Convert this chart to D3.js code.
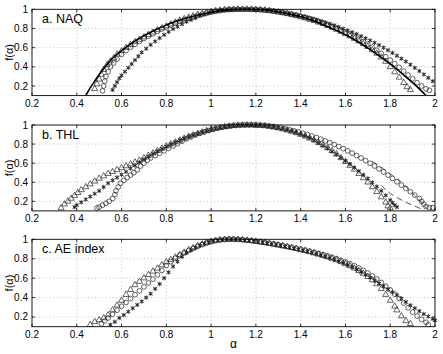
<!DOCTYPE html>
<html>
<head>
<meta charset="utf-8">
<script src="https://cdn.jsdelivr.net/npm/d3@7"></script>
<style>
  body { margin: 0; background: #fff; }
  svg { display: block; font-family: "Liberation Sans", Arial, sans-serif; }
</style>
</head>
<body>
<div id="chart"></div>
<script>
// chart size, same as the window
const width = 443;
const height = 354;

// tick values shared by all three panels
const xTicks = [0.2, 0.4, 0.6, 0.8, 1, 1.2, 1.4, 1.6, 1.8, 2];
const yTicks = [0.2, 0.4, 0.6, 0.8, 1];
const panelTitles = ['a. NAQ', 'b. THL', 'c. AE index'];

// ---- a. NAQ ----
const naqLine = [[0.44,0.10],[0.46,0.18],[0.48,0.25],[0.50,0.32],[0.53,0.41],[0.56,0.49],[0.60,0.57],[0.65,0.655],[0.70,0.725],[0.75,0.785],[0.80,0.835],[0.85,0.88],[0.90,0.915],[0.95,0.945],[1.00,0.97],[1.05,0.987],[1.10,0.997],[1.15,1.0],[1.20,0.998],[1.25,0.99],[1.30,0.972],[1.35,0.95],[1.40,0.922],[1.45,0.885],[1.50,0.84],[1.55,0.79],[1.60,0.735],[1.65,0.67],[1.70,0.595],[1.75,0.515],[1.80,0.43],[1.85,0.335],[1.90,0.235],[1.93,0.17],[1.96,0.10]];
const naqTri = [[0.48,0.17],[0.49,0.22],[0.50,0.27],[0.51,0.32],[0.52,0.37],[0.535,0.42],[0.55,0.46],[0.565,0.49],[0.58,0.53],[0.60,0.565],[0.62,0.60],[0.64,0.63],[0.66,0.66],[0.68,0.685],[0.70,0.71],[0.72,0.735],[0.74,0.76],[0.76,0.785],[0.78,0.805],[0.80,0.825],[0.82,0.845],[0.84,0.865],[0.86,0.885],[0.88,0.90],[0.90,0.915],[0.92,0.93],[0.94,0.945],[0.96,0.955],[0.98,0.965],[1.00,0.975],[1.02,0.983],[1.04,0.99],[1.06,0.994],[1.08,0.997],[1.10,0.999],[1.12,1.0],[1.14,1.0],[1.16,1.0],[1.18,0.999],[1.20,0.997],[1.22,0.994],[1.24,0.99],[1.26,0.985],[1.28,0.978],[1.30,0.97],[1.32,0.962],[1.34,0.953],[1.36,0.943],[1.38,0.932],[1.40,0.92],[1.42,0.908],[1.44,0.894],[1.46,0.88],[1.48,0.864],[1.50,0.848],[1.52,0.83],[1.54,0.81],[1.56,0.79],[1.58,0.768],[1.60,0.745],[1.62,0.72],[1.64,0.695],[1.66,0.668],[1.68,0.64],[1.70,0.61],[1.72,0.575],[1.74,0.54],[1.76,0.50],[1.78,0.455],[1.80,0.40],[1.82,0.345],[1.84,0.29],[1.86,0.235],[1.875,0.19],[1.89,0.16]];
const naqCirc = [[0.515,0.15],[0.52,0.20],[0.525,0.25],[0.53,0.30],[0.54,0.35],[0.55,0.40],[0.565,0.44],[0.58,0.48],[0.60,0.53],[0.62,0.57],[0.64,0.605],[0.66,0.635],[0.68,0.665],[0.70,0.695],[0.72,0.72],[0.74,0.745],[0.76,0.77],[0.78,0.795],[0.80,0.815],[0.82,0.835],[0.84,0.855],[0.86,0.875],[0.88,0.89],[0.90,0.905],[0.92,0.92],[0.94,0.935],[0.96,0.948],[0.98,0.96],[1.00,0.97],[1.02,0.979],[1.04,0.986],[1.06,0.992],[1.08,0.996],[1.10,0.998],[1.12,1.0],[1.14,1.0],[1.16,1.0],[1.18,0.999],[1.20,0.998],[1.22,0.995],[1.24,0.991],[1.26,0.987],[1.28,0.981],[1.30,0.974],[1.32,0.966],[1.34,0.958],[1.36,0.948],[1.38,0.938],[1.40,0.927],[1.42,0.915],[1.44,0.902],[1.46,0.888],[1.48,0.873],[1.50,0.857],[1.52,0.84],[1.54,0.822],[1.56,0.803],[1.58,0.783],[1.60,0.762],[1.62,0.74],[1.64,0.716],[1.66,0.69],[1.68,0.663],[1.70,0.635],[1.72,0.605],[1.74,0.573],[1.76,0.54],[1.78,0.505],[1.80,0.47],[1.82,0.433],[1.84,0.395],[1.86,0.355],[1.88,0.315],[1.90,0.275],[1.92,0.235],[1.94,0.20],[1.96,0.17],[1.975,0.155]];
const naqStar = [[0.56,0.16],[0.57,0.20],[0.58,0.24],[0.59,0.28],[0.60,0.31],[0.615,0.35],[0.63,0.39],[0.645,0.43],[0.66,0.47],[0.675,0.51],[0.69,0.55],[0.71,0.59],[0.73,0.63],[0.75,0.665],[0.77,0.70],[0.79,0.735],[0.81,0.765],[0.83,0.795],[0.85,0.82],[0.87,0.845],[0.89,0.87],[0.91,0.89],[0.93,0.91],[0.95,0.93],[0.97,0.945],[0.99,0.96],[1.01,0.972],[1.03,0.982],[1.05,0.99],[1.07,0.995],[1.09,0.998],[1.11,1.0],[1.13,1.0],[1.15,1.0],[1.17,1.0],[1.19,0.999],[1.21,0.997],[1.23,0.994],[1.25,0.99],[1.27,0.985],[1.29,0.979],[1.31,0.972],[1.33,0.965],[1.35,0.957],[1.37,0.948],[1.39,0.938],[1.41,0.928],[1.43,0.917],[1.45,0.905],[1.47,0.892],[1.49,0.878],[1.51,0.864],[1.53,0.849],[1.55,0.833],[1.57,0.816],[1.59,0.798],[1.61,0.78],[1.63,0.761],[1.65,0.741],[1.67,0.72],[1.69,0.698],[1.71,0.675],[1.73,0.651],[1.75,0.626],[1.77,0.60],[1.79,0.573],[1.81,0.545],[1.83,0.516],[1.85,0.486],[1.87,0.455],[1.89,0.423],[1.91,0.39],[1.93,0.356],[1.95,0.321],[1.97,0.285],[1.99,0.25]];

// ---- b. THL ----
const thlTri = [[0.33,0.13],[0.345,0.17],[0.36,0.20],[0.375,0.23],[0.39,0.26],[0.405,0.29],[0.42,0.32],[0.44,0.35],[0.46,0.38],[0.48,0.41],[0.50,0.44],[0.52,0.465],[0.54,0.49],[0.56,0.51],[0.58,0.53],[0.60,0.55],[0.62,0.57],[0.64,0.59],[0.66,0.61],[0.68,0.63],[0.70,0.655],[0.72,0.68],[0.74,0.705],[0.76,0.73],[0.78,0.755],[0.80,0.78],[0.82,0.80],[0.84,0.82],[0.86,0.84],[0.88,0.86],[0.90,0.88],[0.92,0.895],[0.94,0.91],[0.96,0.925],[0.98,0.94],[1.00,0.952],[1.02,0.963],[1.04,0.972],[1.06,0.98],[1.08,0.987],[1.10,0.993],[1.12,0.997],[1.14,0.999],[1.16,1.0],[1.18,1.0],[1.20,0.999],[1.22,0.996],[1.24,0.991],[1.26,0.985],[1.28,0.977],[1.30,0.968],[1.32,0.957],[1.34,0.945],[1.36,0.932],[1.38,0.917],[1.40,0.90],[1.42,0.882],[1.44,0.862],[1.46,0.84],[1.48,0.815],[1.50,0.79],[1.52,0.76],[1.54,0.73],[1.56,0.695],[1.58,0.655],[1.60,0.615],[1.62,0.575],[1.64,0.535],[1.66,0.49],[1.68,0.445],[1.70,0.40],[1.72,0.35],[1.74,0.30],[1.76,0.245],[1.78,0.19],[1.79,0.15],[1.80,0.13]];
const thlStar = [[0.39,0.14],[0.40,0.16],[0.42,0.19],[0.44,0.22],[0.46,0.25],[0.48,0.28],[0.50,0.31],[0.52,0.35],[0.54,0.39],[0.56,0.42],[0.58,0.45],[0.60,0.48],[0.62,0.51],[0.64,0.545],[0.66,0.575],[0.68,0.61],[0.70,0.64],[0.72,0.67],[0.74,0.70],[0.76,0.725],[0.78,0.75],[0.80,0.775],[0.82,0.80],[0.84,0.82],[0.86,0.84],[0.88,0.86],[0.90,0.88],[0.92,0.895],[0.94,0.91],[0.96,0.925],[0.98,0.94],[1.00,0.952],[1.02,0.963],[1.04,0.972],[1.06,0.98],[1.08,0.987],[1.10,0.993],[1.12,0.997],[1.14,0.999],[1.16,1.0],[1.18,1.0],[1.20,0.999],[1.22,0.997],[1.24,0.993],[1.26,0.987],[1.28,0.98],[1.30,0.971],[1.32,0.961],[1.34,0.95],[1.36,0.937],[1.38,0.921],[1.40,0.903],[1.42,0.884],[1.44,0.862],[1.46,0.838],[1.48,0.811],[1.50,0.783],[1.52,0.755],[1.54,0.723],[1.56,0.69],[1.58,0.657],[1.60,0.623],[1.62,0.589],[1.64,0.553],[1.66,0.516],[1.68,0.478],[1.70,0.44],[1.72,0.398],[1.74,0.355],[1.76,0.31],[1.78,0.263],[1.80,0.213],[1.81,0.185],[1.82,0.16],[1.83,0.14]];
const thlCirc = [[0.49,0.13],[0.50,0.14],[0.515,0.16],[0.53,0.18],[0.545,0.20],[0.56,0.23],[0.57,0.27],[0.575,0.31],[0.585,0.35],[0.595,0.39],[0.61,0.42],[0.625,0.45],[0.64,0.475],[0.655,0.50],[0.67,0.53],[0.685,0.57],[0.70,0.60],[0.715,0.63],[0.73,0.655],[0.75,0.68],[0.77,0.705],[0.79,0.73],[0.81,0.755],[0.83,0.78],[0.85,0.805],[0.87,0.83],[0.89,0.855],[0.91,0.875],[0.93,0.895],[0.95,0.912],[0.97,0.928],[0.99,0.942],[1.01,0.955],[1.03,0.966],[1.05,0.976],[1.07,0.984],[1.09,0.99],[1.11,0.995],[1.13,0.998],[1.15,1.0],[1.17,1.0],[1.19,1.0],[1.21,0.998],[1.23,0.995],[1.25,0.99],[1.27,0.984],[1.29,0.977],[1.31,0.969],[1.33,0.96],[1.35,0.95],[1.37,0.939],[1.39,0.927],[1.41,0.914],[1.43,0.90],[1.45,0.885],[1.47,0.869],[1.49,0.852],[1.51,0.834],[1.53,0.815],[1.55,0.795],[1.57,0.774],[1.59,0.752],[1.61,0.729],[1.63,0.705],[1.65,0.68],[1.67,0.654],[1.69,0.627],[1.71,0.599],[1.73,0.57],[1.75,0.54],[1.77,0.508],[1.79,0.475],[1.81,0.44],[1.83,0.405],[1.85,0.37],[1.87,0.335],[1.89,0.30],[1.91,0.265],[1.93,0.23],[1.94,0.20],[1.95,0.17],[1.96,0.145],[1.975,0.135],[1.99,0.135]];
const thlDashOuter = [[1.72,0.62],[1.77,0.54],[1.81,0.47],[1.85,0.40],[1.88,0.33],[1.91,0.26],[1.94,0.19],[1.96,0.13]];
const thlDashInner = [[1.76,0.37],[1.79,0.30],[1.83,0.24],[1.87,0.19],[1.91,0.15],[1.94,0.12]];

// ---- c. AE index ----
const aeTri = [[0.46,0.12],[0.48,0.15],[0.50,0.17],[0.52,0.19],[0.54,0.22],[0.56,0.27],[0.58,0.32],[0.60,0.37],[0.62,0.43],[0.64,0.48],[0.66,0.53],[0.68,0.565],[0.70,0.60],[0.72,0.635],[0.74,0.67],[0.76,0.70],[0.78,0.735],[0.80,0.765],[0.82,0.79],[0.84,0.815],[0.86,0.84],[0.88,0.865],[0.90,0.89],[0.92,0.912],[0.94,0.932],[0.96,0.95],[0.98,0.965],[1.00,0.978],[1.02,0.988],[1.04,0.994],[1.06,0.998],[1.08,1.0],[1.10,1.0],[1.12,0.998],[1.14,0.994],[1.16,0.989],[1.18,0.984],[1.20,0.978],[1.22,0.971],[1.24,0.964],[1.26,0.956],[1.28,0.948],[1.30,0.94],[1.32,0.931],[1.34,0.922],[1.36,0.912],[1.38,0.902],[1.40,0.892],[1.42,0.881],[1.44,0.87],[1.46,0.858],[1.48,0.845],[1.50,0.832],[1.52,0.818],[1.54,0.803],[1.56,0.787],[1.58,0.768],[1.60,0.748],[1.62,0.726],[1.64,0.702],[1.66,0.676],[1.68,0.648],[1.70,0.615],[1.72,0.58],[1.74,0.54],[1.76,0.49],[1.78,0.43],[1.80,0.37],[1.82,0.31],[1.83,0.27],[1.85,0.21],[1.87,0.16],[1.89,0.13]];
const aeCirc = [[0.51,0.13],[0.525,0.16],[0.54,0.19],[0.56,0.23],[0.58,0.27],[0.60,0.31],[0.62,0.35],[0.64,0.39],[0.66,0.43],[0.68,0.47],[0.70,0.51],[0.72,0.55],[0.74,0.59],[0.76,0.635],[0.78,0.68],[0.80,0.73],[0.82,0.77],[0.84,0.805],[0.86,0.835],[0.88,0.86],[0.90,0.885],[0.92,0.907],[0.94,0.927],[0.96,0.945],[0.98,0.961],[1.00,0.974],[1.02,0.985],[1.04,0.992],[1.06,0.997],[1.08,1.0],[1.10,1.0],[1.12,0.999],[1.14,0.996],[1.16,0.991],[1.18,0.986],[1.20,0.98],[1.22,0.974],[1.24,0.967],[1.26,0.96],[1.28,0.952],[1.30,0.944],[1.32,0.936],[1.34,0.927],[1.36,0.918],[1.38,0.909],[1.40,0.899],[1.42,0.889],[1.44,0.878],[1.46,0.867],[1.48,0.855],[1.50,0.843],[1.52,0.83],[1.54,0.816],[1.56,0.801],[1.58,0.785],[1.60,0.768],[1.62,0.749],[1.64,0.728],[1.66,0.705],[1.68,0.68],[1.70,0.653],[1.72,0.623],[1.74,0.59],[1.76,0.555],[1.78,0.518],[1.80,0.479],[1.82,0.435],[1.84,0.39],[1.86,0.343],[1.88,0.295],[1.90,0.25],[1.92,0.21],[1.94,0.175],[1.96,0.145],[1.97,0.12]];
const aeStar = [[0.55,0.12],[0.57,0.15],[0.59,0.19],[0.61,0.22],[0.63,0.255],[0.65,0.29],[0.67,0.325],[0.69,0.36],[0.71,0.40],[0.73,0.44],[0.75,0.49],[0.77,0.54],[0.79,0.60],[0.81,0.66],[0.83,0.72],[0.85,0.77],[0.87,0.82],[0.89,0.86],[0.91,0.89],[0.93,0.915],[0.95,0.938],[0.97,0.956],[0.99,0.971],[1.01,0.983],[1.03,0.991],[1.05,0.996],[1.07,0.999],[1.09,1.0],[1.11,0.999],[1.13,0.996],[1.15,0.991],[1.17,0.986],[1.19,0.98],[1.21,0.973],[1.23,0.966],[1.25,0.958],[1.27,0.95],[1.29,0.942],[1.31,0.933],[1.33,0.924],[1.35,0.914],[1.37,0.904],[1.39,0.894],[1.41,0.883],[1.43,0.872],[1.45,0.86],[1.47,0.848],[1.49,0.835],[1.51,0.821],[1.53,0.806],[1.55,0.79],[1.57,0.773],[1.59,0.754],[1.61,0.734],[1.63,0.712],[1.65,0.688],[1.67,0.662],[1.69,0.634],[1.71,0.605],[1.73,0.575],[1.75,0.545],[1.77,0.515],[1.79,0.485],[1.81,0.455],[1.83,0.425],[1.85,0.39],[1.87,0.355],[1.89,0.32],[1.91,0.29],[1.93,0.26],[1.95,0.23],[1.97,0.205],[1.99,0.18],[2.00,0.165]];

// pixel boxes of the three axes (top, bottom)
const panelBoxes = [[9.3, 95.6], [125, 210.9], [239.3, 326.7]];
const left = 32, right = 435;

const panels = [
  { title: panelTitles[0], tri: naqTri, circ: naqCirc, star: naqStar, lines: [naqLine], dashes: [] },
  { title: panelTitles[1], tri: thlTri, circ: thlCirc, star: thlStar, lines: [], dashes: [thlDashOuter, thlDashInner] },
  { title: panelTitles[2], tri: aeTri, circ: aeCirc, star: aeStar, lines: [], dashes: [] }
];

const svg = d3.select('#chart').append('svg')
  .attr('width', width)
  .attr('height', height);

const xScale = d3.scaleLinear().domain([0.2, 2]).range([left, right]);

const markerStroke = '#222';

panels.forEach((p, idx) => {
  const [top, bottom] = panelBoxes[idx];
  const yScale = d3.scaleLinear().domain([0.1, 1]).range([bottom, top]);
  const g = svg.append('g');

  // dotted grid
  g.append('g').selectAll('line.vx')
    .data(xTicks.slice(1, -1))
    .join('line')
      .attr('x1', d => xScale(d)).attr('x2', d => xScale(d))
      .attr('y1', top).attr('y2', bottom)
      .attr('stroke', '#b5b5b5').attr('stroke-width', 0.8)
      .attr('stroke-dasharray', '1,2.5');
  g.append('g').selectAll('line.hy')
    .data(yTicks.slice(0, -1))
    .join('line')
      .attr('x1', left).attr('x2', right)
      .attr('y1', d => yScale(d)).attr('y2', d => yScale(d))
      .attr('stroke', '#b5b5b5').attr('stroke-width', 0.8)
      .attr('stroke-dasharray', '1,2.5');

  const clip = 'clip' + idx;
  svg.append('clipPath').attr('id', clip)
    .append('rect')
      .attr('x', left - 4).attr('y', top - 4)
      .attr('width', right - left + 8).attr('height', bottom - top + 4);

  const plot = g.append('g').attr('clip-path', `url(#${clip})`);

  const line = d3.line()
    .x(d => xScale(d[0]))
    .y(d => yScale(d[1]))
    .curve(d3.curveCatmullRom);

  // markers
  const drawSymbols = (data, type, size, sw) => {
    plot.append('g').selectAll('path')
      .data(data)
      .join('path')
        .attr('transform', d => `translate(${xScale(d[0])},${yScale(d[1])})`)
        .attr('d', d3.symbol().type(type).size(size))
        .attr('fill', 'none')
        .attr('stroke', markerStroke)
        .attr('stroke-width', sw);
  };
  drawSymbols(p.circ, d3.symbolCircle, 18, 0.7);
  drawSymbols(p.tri, d3.symbolTriangle, 16, 0.7);
  drawSymbols(p.star, d3.symbolAsterisk, 14, 0.8);
  drawSymbols(p.star, d3.symbolTimes, 8, 0.8);

  p.lines.forEach(l => {
    plot.append('path')
      .datum(l)
      .attr('fill', 'none')
      .attr('stroke', '#000')
      .attr('stroke-width', 1.6)
      .attr('d', line);
  });
  p.dashes.forEach(l => {
    plot.append('path')
      .datum(l)
      .attr('fill', 'none')
      .attr('stroke', '#222')
      .attr('stroke-width', 0.8)
      .attr('stroke-dasharray', '6,4')
      .attr('d', line);
  });

  // box
  g.append('rect')
    .attr('x', left).attr('y', top)
    .attr('width', right - left).attr('height', bottom - top)
    .attr('fill', 'none').attr('stroke', '#000').attr('stroke-width', 0.9);

  // inward ticks on all four sides
  const tl = 3;
  xTicks.forEach(t => {
    g.append('line').attr('x1', xScale(t)).attr('x2', xScale(t))
      .attr('y1', bottom).attr('y2', bottom - tl).attr('stroke', '#000').attr('stroke-width', 0.8);
    g.append('line').attr('x1', xScale(t)).attr('x2', xScale(t))
      .attr('y1', top).attr('y2', top + tl).attr('stroke', '#000').attr('stroke-width', 0.8);
  });
  yTicks.forEach(t => {
    g.append('line').attr('x1', left).attr('x2', left + tl)
      .attr('y1', yScale(t)).attr('y2', yScale(t)).attr('stroke', '#000').attr('stroke-width', 0.8);
    g.append('line').attr('x1', right).attr('x2', right - tl)
      .attr('y1', yScale(t)).attr('y2', yScale(t)).attr('stroke', '#000').attr('stroke-width', 0.8);
  });

  // tick labels
  g.append('g').selectAll('text')
    .data(xTicks)
    .join('text')
      .attr('x', d => xScale(d))
      .attr('y', bottom + 11.5)
      .attr('text-anchor', 'middle')
      .attr('font-size', 10)
      .text(d => d3.format('~g')(d));
  g.append('g').selectAll('text')
    .data(yTicks)
    .join('text')
      .attr('x', left - 4)
      .attr('y', d => yScale(d) + 3.5)
      .attr('text-anchor', 'end')
      .attr('font-size', 10)
      .text(d => d3.format('~g')(d));

  // y label
  g.append('text')
    .attr('transform', `translate(13,${(top + bottom) / 2}) rotate(-90)`)
    .attr('text-anchor', 'middle')
    .attr('font-size', 11)
    .text('f(α)');

  // panel title
  g.append('text')
    .attr('x', 42)
    .attr('y', top + 14)
    .attr('font-size', 12.5)
    .text(p.title);
});

// x label
svg.append('text')
  .attr('x', (left + right) / 2)
  .attr('y', 348)
  .attr('text-anchor', 'middle')
  .attr('font-size', 12)
  .text('α');
</script>
</body>
</html>
